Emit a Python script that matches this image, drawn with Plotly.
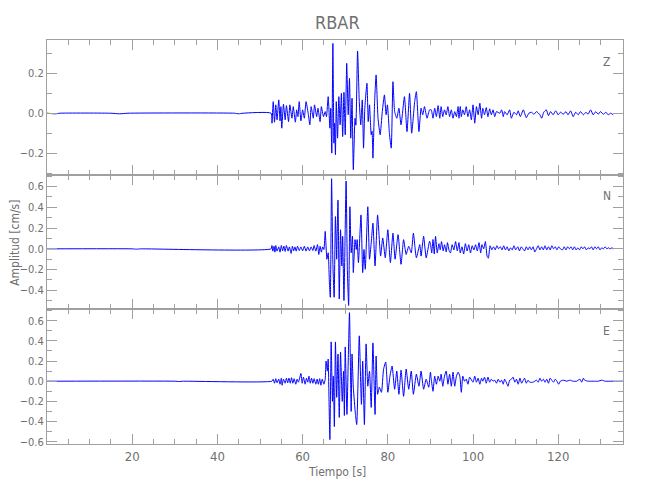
import plotly.graph_objects as go
from plotly.subplots import make_subplots

# (time [s], amplitude [cm/s]) turning points
z_pts = [(0, 0), (2, -0.003), (3, 0), (15, 0), (17, -0.003), (19, 0), (44, 0), (45, -0.003), (46, 0), (52.6, 0),
         (52.8, -0.05), (53.1, 0.058), (53.4, -0.045), (53.7, 0.042), (54.0, -0.033), (54.4, 0.067), (54.7, -0.038),
         (54.9, 0.033), (55.1, -0.075), (55.5, 0.045), (55.9, -0.033), (56.2, 0.038), (56.7, -0.042), (57.0, 0.042),
         (57.5, -0.025), (57.8, 0.033), (58.3, -0.045), (58.6, 0.017), (58.9, -0.017), (59.2, 0.058), (59.6, -0.038),
         (60.0, 0.017), (60.4, -0.025), (60.8, 0.058), (61.3, 0.0), (61.7, -0.058), (62.0, 0.033), (62.5, -0.025),
         (62.8, 0.042), (63.3, -0.017), (63.6, 0.025), (64.1, -0.042), (64.4, 0.033), (64.9, -0.017), (65.3, 0.008),
         (65.6, -0.017), (66.0, 0.083), (66.4, -0.075), (66.6, 0.025), (66.85, -0.2), (67.1, 0.35), (67.35, -0.15),
         (67.5, -0.05), (67.7, -0.208), (67.9, 0.058), (68.2, -0.125), (68.5, 0.083), (68.8, -0.058), (69.1, 0.1),
         (69.4, -0.117), (69.7, 0.105), (70.0, -0.108), (70.35, 0.25), (70.7, -0.008), (71.0, 0.175), (71.3, -0.125),
         (71.6, 0.075), (71.9, -0.283), (72.3, -0.025), (72.5, -0.06), (72.9, 0.312), (73.3, 0.058), (73.65, -0.058),
         (74.0, 0.067), (74.3, -0.175), (74.6, 0.025), (75.1, 0.15), (75.4, -0.042), (75.7, 0.042), (76.1, -0.108),
         (76.3, -0.09), (76.5, -0.225), (76.9, 0.058), (77.25, 0.192), (77.7, -0.025), (78.2, -0.108), (78.7, 0.008),
         (79.2, 0.092), (79.6, -0.008), (79.9, 0.042), (80.4, -0.108), (80.8, -0.175), (81.2, 0.158), (81.6, 0.008),
         (82.1, -0.025), (82.6, 0.025), (83.1, -0.058), (83.9, 0.083), (84.5, -0.092), (85.1, 0.1), (85.6, -0.1),
         (86.3, 0.058), (86.7, 0.108), (87.3, -0.092), (87.8, 0.025), (88.2, -0.008), (88.6, 0.033), (89.2, -0.025),
         (89.8, 0.017), (90.2, 0.017), (90.6, -0.025), (91.0, 0.025), (91.4, -0.017), (91.8, 0.038), (92.2, -0.025),
         (92.5, 0.033), (92.9, -0.017), (93.3, 0.017), (93.7, -0.008), (94.1, 0.033), (94.5, -0.017), (94.9, 0.017),
         (95.3, -0.025), (95.7, 0.008), (96.1, -0.017), (96.5, 0.033), (96.7, -0.025), (97.0, 0.033), (97.25, -0.017),
         (97.6, 0.017), (98.0, -0.008), (98.4, 0.033), (98.8, -0.017), (99.2, 0.017), (99.6, -0.033), (100.0, 0.042),
         (100.4, -0.05), (100.8, 0.033), (101.2, -0.008), (101.6, 0.05), (102.0, -0.025), (102.3, 0.025),
         (102.7, -0.008), (103.1, 0.028), (103.5, -0.017), (103.9, 0.022), (104.3, -0.008), (104.7, 0.017),
         (105.1, -0.017), (105.5, 0.008), (106.3, 0.0), (106.7, 0.017), (107.1, -0.017), (107.4, 0.008),
         (108.0, -0.008), (108.6, 0.017), (109.0, -0.025), (109.6, 0.005), (110.2, -0.008), (110.6, 0.012),
         (111.1, -0.017), (111.8, 0.017), (112.5, -0.022), (113.1, 0.0), (113.7, 0.005), (114.3, -0.005),
         (114.9, 0.008), (115.7, -0.008), (116.1, -0.025), (116.6, 0.005), (117.2, 0.017), (117.7, -0.012),
         (118.2, 0.008), (118.8, -0.008), (119.4, 0.012), (120.0, -0.008), (120.5, 0.005), (121.2, -0.005),
         (121.8, 0.008), (122.3, -0.008), (122.9, 0.012), (123.5, -0.017), (124.1, 0.005), (124.7, -0.008),
         (125.2, 0.008), (125.9, -0.008), (126.5, 0.005), (127.0, -0.005), (127.6, 0.017), (128.2, -0.008),
         (128.8, 0.008), (129.4, -0.005), (129.9, 0.008), (130.6, -0.005), (131.2, 0.005), (131.7, -0.008),
         (132.3, 0.0), (132.9, -0.008)]

n_pts = [(0, 0), (20, 0), (21, -0.003), (22, 0), (52.6, 0),
         (52.8, 0.032), (53.0, -0.022), (53.3, 0.025), (53.5, -0.032), (53.7, 0.032), (54.0, -0.022), (54.4, 0.019),
         (54.7, -0.032), (55.0, 0.032), (55.3, -0.019), (55.6, 0.025), (55.9, -0.025), (56.2, 0.032), (56.6, -0.022),
         (56.9, 0.019), (57.3, -0.044), (57.6, 0.025), (57.9, -0.019), (58.2, 0.019), (58.5, -0.022), (58.8, 0.025),
         (59.2, -0.016), (59.6, 0.019), (60.0, -0.019), (60.4, 0.025), (60.8, -0.022), (61.2, 0.019), (61.6, -0.019),
         (62.0, 0.019), (62.4, -0.016), (62.7, 0.032), (63.1, -0.022), (63.5, 0.041), (63.8, -0.054), (64.1, 0.025),
         (64.4, -0.032), (64.7, 0.019), (65.0, -0.006), (65.3, 0.168), (65.7, -0.1), (66.0, -0.038), (66.3, -0.34),
         (66.5, -0.467), (66.8, 0.676), (67.1, -0.133), (67.4, -0.467), (67.7, 0.311), (68.0, -0.1), (68.1, 0.121),
         (68.3, 0.47), (68.6, -0.483), (68.9, 0.184), (69.2, -0.165), (69.4, 0.121), (69.7, -0.498), (70.2, 0.654),
         (70.5, -0.197), (70.8, -0.546), (71.1, 0.406), (71.4, -0.038), (71.7, 0.121), (71.9, -0.229), (72.3, 0.089),
         (72.6, -0.006), (72.8, 0.089), (73.1, -0.133), (73.7, 0.327), (74.1, -0.229), (74.4, -0.006), (74.7, -0.197),
         (75.3, 0.406), (75.7, -0.1), (76.1, 0.057), (76.5, 0.248), (77.0, -0.165), (77.6, 0.327), (78.3, -0.07),
         (78.8, 0.105), (79.4, -0.086), (80.0, 0.184), (80.6, -0.133), (81.2, 0.152), (81.7, -0.1), (82.4, 0.137),
         (83.1, -0.149), (83.7, 0.089), (84.3, -0.054), (84.9, 0.025), (85.5, -0.038), (86.0, 0.152), (86.7, -0.086),
         (87.5, 0.041), (87.8, -0.07), (88.4, 0.121), (89.0, -0.086), (89.8, 0.073),
         (90.0, 0.05), (90.3, -0.04), (90.6, 0.09), (90.9, -0.05), (91.2, 0.12), (91.6, -0.04), (92.0, 0.05),
         (92.3, -0.01), (92.6, 0.07), (93.0, -0.02), (93.3, 0.04), (93.7, -0.03), (94.0, 0.06), (94.4, -0.02),
         (94.7, -0.04), (95.1, 0.04), (95.5, -0.01), (95.9, 0.07), (96.3, -0.02), (96.7, 0.06), (97.0, -0.04),
         (97.4, 0.02), (97.8, -0.05), (98.2, 0.05), (98.6, -0.02), (99.0, 0.04), (99.4, -0.04), (99.8, 0.03),
         (100.2, -0.01), (100.6, 0.04), (101.0, -0.02), (101.4, 0.06), (101.8, -0.04), (102.1, 0.04), (102.5, 0.0),
         (102.9, 0.07), (103.3, -0.07), (103.6, -0.09), (104.0, 0.03), (104.4, -0.01), (104.8, 0.02), (105.2, -0.01),
         (105.6, 0.03), (106.0, 0.0), (106.4, 0.02), (106.8, -0.01), (107.2, 0.03), (107.6, -0.01), (108.0, 0.02),
         (108.4, -0.02), (108.8, 0.01), (109.2, -0.01), (109.6, 0.03), (110.0, -0.01), (110.5, 0.02), (110.9, -0.02),
         (111.3, 0.02), (111.7, 0.0), (112.1, -0.02), (112.5, 0.02), (112.9, -0.01), (113.3, 0.02), (113.7, -0.01),
         (114.1, 0.02), (114.5, -0.03), (114.9, 0.0), (115.3, 0.03), (115.7, -0.01), (116.1, 0.02), (116.5, -0.01),
         (116.9, 0.03), (117.3, -0.01), (117.7, 0.02), (118.1, -0.01), (118.5, 0.03), (118.9, 0.0), (119.3, 0.02),
         (119.7, -0.01), (120.1, 0.02), (120.5, 0.0), (121.0, -0.01), (121.4, 0.02), (121.8, -0.01), (122.2, 0.02),
         (122.6, 0.0), (123.0, 0.02), (123.4, -0.01), (123.8, 0.02), (124.2, -0.01), (124.6, 0.01), (125.0, -0.01),
         (125.4, 0.02), (125.8, 0.0), (126.2, 0.02), (126.6, -0.01), (127.0, 0.01), (127.4, 0.0), (127.8, 0.02),
         (128.2, -0.01), (128.6, 0.02), (129.0, 0.0), (129.4, 0.02), (129.8, -0.01), (130.2, 0.01), (130.6, 0.0),
         (131.0, 0.02), (131.4, 0.0), (131.8, 0.01), (132.2, 0.0), (132.6, 0.01), (133.0, 0.0)]

e_pts = [(0, 0), (30, 0), (31, -0.003), (32, 0), (52.8, 0),
         (53.1, 0.02), (53.4, -0.02), (53.7, 0.025), (54.0, -0.015), (54.4, 0.02), (54.7, -0.03), (55.0, 0.03),
         (55.2, -0.04), (55.5, 0.02), (55.9, -0.02), (56.2, 0.03), (56.5, -0.015), (56.8, 0.03), (57.1, -0.02),
         (57.4, 0.035), (57.7, -0.02), (58.0, 0.025), (58.4, -0.03), (58.7, 0.02), (59.0, -0.01), (59.3, 0.03),
         (59.6, 0.077), (59.9, -0.02), (60.2, 0.04), (60.6, -0.03), (60.9, 0.03), (61.2, -0.01), (61.5, 0.05),
         (61.8, -0.02), (62.1, 0.03), (62.4, -0.02), (62.7, 0.025), (63.1, -0.03), (63.4, 0.02), (63.7, -0.03),
         (64.0, 0.025), (64.3, -0.04), (64.6, 0.02), (65.0, -0.03), (65.3, 0.02),
         (65.5, 0.2), (65.8, 0.1), (66.0, 0.22), (66.2, -0.2), (66.4, -0.58), (66.7, 0.39), (67.0, -0.2), (67.2, 0.05),
         (67.45, -0.45), (67.7, 0.39), (68.0, -0.16), (68.3, 0.27), (68.6, -0.36), (68.9, 0.29), (69.3, -0.2),
         (69.6, 0.1), (69.8, -0.34), (70.0, 0.34), (70.4, -0.33), (70.7, 0.19), (71.0, 0.68), (71.4, -0.3),
         (71.6, 0.27), (71.9, -0.06), (72.4, -0.33), (72.7, -0.43), (73.3, 0.45), (73.8, -0.23), (74.1, 0.2),
         (74.5, -0.43), (74.9, 0.37), (75.3, -0.05), (75.7, 0.1), (76.1, -0.26), (76.5, 0.38), (77.0, -0.33),
         (77.25, 0.25), (77.6, -0.13), (78.0, -0.06), (78.5, -0.11), (79.0, 0.12), (79.5, 0.19), (80.0, -0.11),
         (80.5, 0.05), (81.0, 0.15), (81.6, -0.08), (82.1, 0.1), (82.6, -0.13), (83.1, 0.11), (83.7, -0.15),
         (84.3, 0.12), (84.9, -0.08), (85.5, 0.1), (86.0, -0.13), (86.7, 0.07), (87.3, -0.05), (87.8, 0.1),
         (88.4, -0.08), (89.0, 0.02), (89.6, -0.06),
         (90.0, 0.09), (90.2, 0.02), (90.6, -0.1), (91.0, 0.05), (91.4, -0.03), (91.8, 0.05), (92.2, 0.0),
         (92.5, 0.07), (92.9, -0.05), (93.3, 0.05), (93.7, 0.1), (94.1, -0.03), (94.5, 0.07), (94.9, -0.05),
         (95.3, 0.09), (95.7, -0.05), (96.1, 0.05), (96.5, 0.09), (96.9, 0.05), (97.25, -0.11), (97.6, 0.05),
         (98.0, 0.0), (98.4, 0.02), (98.8, -0.03), (99.2, 0.04), (100.0, -0.01), (100.4, 0.05), (100.8, -0.01),
         (101.2, 0.03), (101.6, -0.03), (102.0, 0.03), (102.3, 0.0), (102.7, 0.04), (103.1, -0.02), (103.5, 0.04),
         (103.9, -0.01), (104.3, 0.02), (104.7, 0.0), (105.1, 0.01), (105.5, -0.02), (105.9, 0.02), (106.3, -0.01),
         (106.7, 0.01), (107.1, -0.03), (107.4, 0.02), (107.8, -0.01), (108.2, -0.05), (108.6, 0.01), (109.0, 0.02),
         (109.4, 0.04), (109.8, -0.01), (110.2, 0.02), (110.6, -0.03), (111.0, 0.03), (111.4, -0.02), (111.8, 0.01),
         (112.1, 0.03), (112.5, -0.02), (112.9, 0.01), (113.3, -0.01), (114.1, -0.01), (114.9, 0.01), (115.3, -0.01),
         (115.7, 0.03), (116.1, 0.0), (116.5, 0.02), (116.9, -0.01), (117.3, 0.02), (117.7, -0.02), (118.1, 0.03),
         (118.5, 0.01), (118.9, -0.01), (119.3, 0.02), (119.7, 0.0), (120.1, -0.03), (120.5, 0.0), (121.2, 0.01),
         (122.0, 0.0), (122.7, 0.01), (123.5, 0.0), (124.3, 0.0), (125.1, 0.02), (125.5, -0.01), (125.9, 0.03),
         (126.2, 0.01), (127.0, 0.0), (127.8, 0.0), (128.6, 0.0), (129.4, 0.0), (130.2, 0.01), (131.0, 0.0),
         (132.6, 0.0), (135.2, 0.0)]

components = ["Z", "N", "E"]
y_ranges = [[-0.308, 0.367], [-0.583, 0.715], [-0.623, 0.713]]
x_range = [0, 135.2]
x_tick_values = [20, 40, 60, 80, 100, 120]

title_text = "RBAR"
x_title = "Tiempo [s]"
y_title = "Amplitud [cm/s]"

AX = "#a0a0a0"
TXT = "#707070"
FONT = "Liberation Sans Narrow, DejaVu Sans Condensed, Roboto, sans-serif"

fig = make_subplots(rows=3, cols=1, shared_xaxes=True, vertical_spacing=0)

for i, pts in enumerate([z_pts, n_pts, e_pts]):
    t = [p[0] for p in pts]
    v = [p[1] for p in pts]
    fig.add_trace(go.Scatter(x=t, y=v, mode="lines",
                             line=dict(color="#0000ff", width=1, shape="spline", smoothing=0.5),
                             showlegend=False, hoverinfo="skip"), row=i + 1, col=1)

for i in range(3):
    fig.update_xaxes(range=x_range, showline=True, linecolor=AX, linewidth=1, mirror="ticks",
                     ticks="inside", ticklen=10, tickcolor=AX, tickwidth=1,
                     tickmode="array", tickvals=x_tick_values,
                     minor=dict(dtick=5, tick0=0, ticks="inside", ticklen=5, tickcolor=AX),
                     showgrid=False, zeroline=False, automargin=False,
                     tickfont=dict(family=FONT, size=13, color=TXT),
                     row=i + 1, col=1)
    fig.update_yaxes(range=y_ranges[i], showline=True, linecolor=AX, linewidth=1, mirror="ticks",
                     ticks="inside", ticklen=10, tickcolor=AX, tickwidth=1,
                     dtick=0.2, tick0=0, tickformat=".1f",
                     minor=dict(dtick=0.1, tick0=0, ticks="inside", ticklen=5, tickcolor=AX),
                     showgrid=False, zeroline=False, automargin=False,
                     tickfont=dict(family=FONT, size=11, color=TXT),
                     row=i + 1, col=1)

ann = [
    dict(text=title_text, x=0.504, y=1.0445, xref="paper", yref="paper", showarrow=False,
         xanchor="center", yanchor="middle", font=dict(family=FONT, size=18, color=TXT)),
    dict(text=x_title, x=0.504, y=-0.0685, xref="paper", yref="paper", showarrow=False,
         xanchor="center", yanchor="middle", font=dict(family=FONT, size=12, color=TXT)),
    dict(text=y_title, x=-0.0555, y=0.498, xref="paper", yref="paper", showarrow=False, textangle=-90,
         xanchor="center", yanchor="middle", font=dict(family=FONT, size=12, color=TXT)),
]
label_y = [0.9456, 0.614, 0.280]
for c, ly in zip(components, label_y):
    ann.append(dict(text=c, x=0.972, y=ly, xref="paper", yref="paper", showarrow=False,
                    xanchor="center", yanchor="middle", font=dict(family=FONT, size=12, color=TXT)))

# page body adds an 8px offset, so margins are shifted to keep the plot box in place
fig.update_layout(width=650, height=500, margin=dict(l=39, r=35, t=32, b=64),
                  paper_bgcolor="white", plot_bgcolor="white", annotations=ann)

fig.write_html("out.html")
